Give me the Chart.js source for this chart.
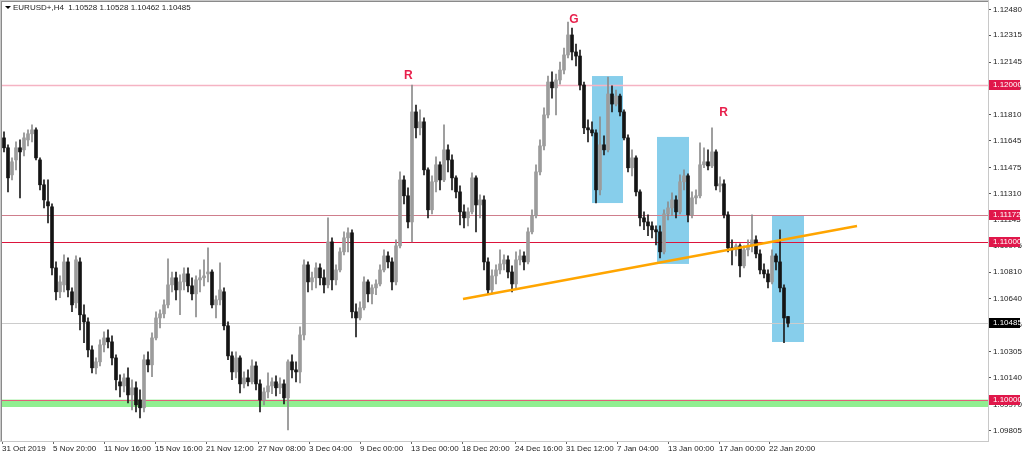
<!DOCTYPE html>
<html>
<head>
<meta charset="utf-8">
<script src="https://cdn.jsdelivr.net/npm/chart.js@4.4.0/dist/chart.umd.min.js"></script>
<style>
  html, body { margin: 0; padding: 0; background: #fff; overflow: hidden; }
</style>
</head>
<body>
<canvas id="chart" width="1024" height="455"></canvas>
<script>
// EURUSD+ H4 candles, one entry per candle
const open = [
  1.11663,1.11600,1.11428,1.11523,1.11600,1.11587,1.11650,1.11689,1.11714,1.11523,
  1.11365,1.11257,1.11225,1.10837,1.10685,1.10729,1.10875,1.10685,1.10615,1.10875,
  1.10539,1.10494,1.10316,1.10202,1.10240,1.10348,1.10392,1.10367,1.10265,1.10113,
  1.10087,1.10138,1.10030,1.10075,1.09998,1.09948,1.10253,1.10221,1.10392,1.10519,
  1.10545,1.10602,1.10729,1.10774,1.10697,1.10748,1.10799,1.10723,1.10672,1.10761,
  1.10774,1.10799,1.10811,1.10602,1.10634,1.10685,1.10469,1.10278,1.10176,1.10265,
  1.10100,1.10138,1.10113,1.10214,1.10100,1.09998,1.10049,1.10087,1.10113,1.10075,
  1.10100,1.10011,1.10240,1.10189,1.10176,1.10411,1.10856,1.10748,1.10774,1.10837,
  1.10774,1.10729,1.11002,1.10761,1.10824,1.10939,1.11028,1.11060,1.10558,1.10519,
  1.10583,1.10748,1.10672,1.10710,1.10735,1.10824,1.10913,1.10875,1.10748,1.10977,
  1.11396,1.11295,1.11129,1.11828,1.11727,1.11765,1.11460,1.11206,1.11384,1.11492,
  1.11396,1.11587,1.11523,1.11409,1.11320,1.11193,1.11155,1.11193,1.11409,1.11237,
  1.11269,1.10875,1.10697,1.10786,1.10824,1.10862,1.10888,1.10811,1.10735,1.10888,
  1.10913,1.10875,1.11066,1.11168,1.11447,1.11612,1.11809,1.12018,1.11981,1.12031,
  1.12094,1.12190,1.12317,1.12209,1.12183,1.11999,1.11727,1.11714,1.11695,1.11333,
  1.11619,1.11587,1.11942,1.11878,1.11929,1.11828,1.11663,1.11473,1.11536,1.11320,
  1.11155,1.11129,1.11104,1.11079,1.11066,1.10939,1.11180,1.11218,1.11269,1.11193,
  1.11384,1.11422,1.11174,1.11282,1.11295,1.11492,1.11511,1.11485,1.11574,1.11358,
  1.11371,1.11174,1.10964,1.10952,1.10977,1.10850,1.10952,1.10977,1.11015,1.10926,
  1.10824,1.10799,1.10748,1.10913,1.10875,1.10710,1.10528
];
const high = [
  1.11701,1.11619,1.11536,1.11638,1.11650,1.11695,1.11714,1.11746,1.11727,1.11536,
  1.11396,1.11396,1.11244,1.10875,1.10786,1.10920,1.10901,1.10710,1.10913,1.10901,
  1.10602,1.10519,1.10341,1.10265,1.10380,1.10430,1.10443,1.10405,1.10284,1.10157,
  1.10164,1.10202,1.10126,1.10113,1.10062,1.10284,1.10303,1.10424,1.10558,1.10570,
  1.10634,1.10894,1.10811,1.10811,1.10793,1.10837,1.10837,1.10774,1.10786,1.10824,
  1.10888,1.10964,1.10824,1.10659,1.10869,1.10710,1.10494,1.10303,1.10303,1.10278,
  1.10176,1.10189,1.10253,1.10240,1.10126,1.10075,1.10170,1.10138,1.10151,1.10138,
  1.10126,1.10253,1.10284,1.10240,1.10462,1.10888,1.10875,1.10811,1.10869,1.10862,
  1.10824,1.11155,1.11028,1.10856,1.10964,1.11066,1.11091,1.11079,1.10608,1.10621,
  1.10780,1.10761,1.10729,1.10761,1.10856,1.10952,1.10939,1.10901,1.11015,1.11447,
  1.11422,1.11345,1.11999,1.11872,1.11841,1.11790,1.11473,1.11422,1.11542,1.11511,
  1.11746,1.11619,1.11555,1.11422,1.11358,1.11237,1.11218,1.11441,1.11422,1.11301,
  1.11295,1.10901,1.10824,1.10856,1.10952,1.10920,1.10913,1.10850,1.10939,1.10952,
  1.10939,1.11091,1.11206,1.11492,1.11650,1.11854,1.12056,1.12082,1.12069,1.12145,
  1.12234,1.12399,1.12361,1.12259,1.12221,1.12018,1.11777,1.11765,1.11714,1.11797,
  1.11676,1.12050,1.11993,1.11967,1.11942,1.11841,1.11682,1.11587,1.11549,1.11333,
  1.11193,1.11174,1.11129,1.11104,1.11104,1.11206,1.11257,1.11314,1.11295,1.11428,
  1.11460,1.11434,1.11320,1.11333,1.11631,1.11600,1.11587,1.11727,1.11587,1.11415,
  1.11396,1.11193,1.11015,1.10990,1.10990,1.10977,1.11015,1.11174,1.11041,1.10952,
  1.10862,1.10824,1.10952,1.10926,1.11079,1.10729,1.10528
];
const low = [
  1.11574,1.11320,1.11396,1.11460,1.11282,1.11549,1.11612,1.11638,1.11523,1.11333,
  1.11218,1.11123,1.10793,1.10634,1.10647,1.10685,1.10653,1.10558,1.10583,1.10443,
  1.10361,1.10272,1.10170,1.10164,1.10214,1.10303,1.10329,1.10221,1.10062,1.10017,
  1.10049,1.09979,1.09935,1.09922,1.09884,1.09922,1.10176,1.10145,1.10380,1.10456,
  1.10519,1.10583,1.10685,1.10634,1.10539,1.10697,1.10685,1.10634,1.10526,1.10685,
  1.10723,1.10748,1.10583,1.10519,1.10602,1.10443,1.10253,1.10126,1.10138,1.10043,
  1.10075,1.10087,1.10100,1.10062,1.09922,1.09967,1.10011,1.10037,1.10024,1.10037,
  1.09973,1.09808,1.10138,1.10113,1.10106,1.10380,1.10685,1.10697,1.10710,1.10729,
  1.10678,1.10710,1.10697,1.10729,1.10811,1.10920,1.10939,1.10519,1.10399,1.10507,
  1.10570,1.10621,1.10608,1.10666,1.10723,1.10811,1.10837,1.10697,1.10729,1.10964,
  1.11244,1.11091,1.11002,1.11663,1.11682,1.11428,1.11155,1.11180,1.11320,1.11333,
  1.11384,1.11447,1.11333,1.11282,1.11110,1.11091,1.11104,1.11180,1.11066,1.11155,
  1.10824,1.10672,1.10672,1.10735,1.10799,1.10824,1.10774,1.10685,1.10710,1.10856,
  1.10824,1.10862,1.11053,1.11155,1.11428,1.11587,1.11790,1.11916,1.11809,1.12005,
  1.12069,1.12171,1.12158,1.12120,1.11967,1.11689,1.11638,1.11676,1.11250,1.11301,
  1.11555,1.11574,1.11828,1.11866,1.11803,1.11650,1.11447,1.11422,1.11295,1.11104,
  1.11079,1.11041,1.11028,1.10983,1.10901,1.10926,1.11142,1.11168,1.11155,1.11180,
  1.11333,1.11129,1.11155,1.11244,1.11282,1.11473,1.11460,1.11473,1.11333,1.11320,
  1.11155,1.10939,1.10856,1.10913,1.10780,1.10837,1.10913,1.10939,1.10901,1.10799,
  1.10774,1.10710,1.10735,1.10824,1.10685,1.10361,1.10462
];
const close = [
  1.11600,1.11409,1.11511,1.11600,1.11574,1.11663,1.11689,1.11714,1.11536,1.11365,
  1.11269,1.11231,1.10837,1.10685,1.10748,1.10875,1.10697,1.10602,1.10888,1.10539,
  1.10494,1.10316,1.10202,1.10240,1.10348,1.10392,1.10367,1.10265,1.10126,1.10087,
  1.10138,1.10030,1.10075,1.09967,1.09948,1.10253,1.10221,1.10392,1.10519,1.10545,
  1.10602,1.10729,1.10774,1.10697,1.10748,1.10799,1.10723,1.10672,1.10761,1.10774,
  1.10786,1.10811,1.10602,1.10634,1.10697,1.10469,1.10278,1.10176,1.10265,1.10100,
  1.10138,1.10113,1.10214,1.10100,1.09998,1.10049,1.10087,1.10113,1.10075,1.10100,
  1.10011,1.10240,1.10189,1.10176,1.10411,1.10856,1.10748,1.10774,1.10837,1.10774,
  1.10729,1.11002,1.10761,1.10824,1.10939,1.11028,1.11060,1.10558,1.10519,1.10583,
  1.10748,1.10672,1.10710,1.10735,1.10824,1.10913,1.10875,1.10748,1.10977,1.11396,
  1.11295,1.11129,1.11828,1.11727,1.11765,1.11460,1.11206,1.11384,1.11492,1.11396,
  1.11587,1.11523,1.11409,1.11320,1.11193,1.11155,1.11193,1.11409,1.11237,1.11269,
  1.10875,1.10697,1.10786,1.10824,1.10862,1.10888,1.10811,1.10735,1.10888,1.10913,
  1.10875,1.11066,1.11168,1.11447,1.11612,1.11809,1.12018,1.11981,1.12031,1.12094,
  1.12190,1.12317,1.12209,1.12183,1.11999,1.11727,1.11714,1.11695,1.11333,1.11619,
  1.11587,1.11942,1.11878,1.11929,1.11828,1.11663,1.11473,1.11536,1.11320,1.11155,
  1.11129,1.11104,1.11079,1.11066,1.10939,1.11180,1.11218,1.11269,1.11193,1.11384,
  1.11422,1.11174,1.11282,1.11295,1.11492,1.11511,1.11485,1.11574,1.11358,1.11371,
  1.11174,1.10964,1.10952,1.10977,1.10850,1.10952,1.10977,1.11015,1.10926,1.10824,
  1.10799,1.10748,1.10913,1.10875,1.10710,1.10519,1.10485
];

// time axis labels, placed at candle positions
const xTickPos = [-0.5, 12.25, 25, 37.75, 50.5, 63.5, 76.25, 89, 101.75, 114.5, 127.75, 140.5, 153.25, 166, 178.75, 191.25];
const xTickLabels = ['31 Oct 2019', '5 Nov 20:00', '11 Nov 16:00', '15 Nov 16:00', '21 Nov 12:00', '27 Nov 08:00',
  '3 Dec 04:00', '9 Dec 00:00', '13 Dec 00:00', '18 Dec 20:00', '24 Dec 16:00', '31 Dec 12:00',
  '7 Jan 04:00', '13 Jan 00:00', '17 Jan 00:00', '22 Jan 20:00'];

// price scale ticks
const yTicks = [1.12480, 1.12315, 1.12145, 1.11980, 1.11810, 1.11645, 1.11475, 1.11310, 1.11145,
  1.10975, 1.10810, 1.10640, 1.10475, 1.10305, 1.10140, 1.09970, 1.09805];

// drawn objects
const levelPrices = [1.12000, 1.11172, 1.11000, 1.10485, 1.10000];
const zoneTop = 1.10000, zoneBottom = 1.09953;
const boxStart = [147, 163.25, 192];
const boxEnd = [154.75, 171.25, 200];
const boxHigh = [1.12056, 1.11669, 1.11173];
const boxLow = [1.11249, 1.10862, 1.10366];
const trendX = [114.75, 213.25];
const trendY = [1.10639, 1.11103];
const marks = ['R', 'G', 'R'];
const markX = [101.1, 142.5, 179.9];
const markY = [1.12056, 1.12412, 1.11821];
const header = 'EURUSD+,H4  1.10528 1.10528 1.10462 1.10485';

const levelColors = ['#f5b3c3', '#cf7e8c', '#dc143c', '#cccccc', '#e0607a'];
const levelTag = ['#e0174a', '#e0174a', '#e0174a', '#000000', '#e0174a'];
const FONT = 'Liberation Sans';

const idx = open.map((_, i) => i);
const isUp = idx.map(i => close[i] >= open[i]);

const mt4 = {
  id: 'mt4',
  beforeDatasetsDraw(chart) {
    const { ctx, chartArea: a, scales: { x, y } } = chart;
    ctx.save();
    ctx.beginPath();
    ctx.rect(a.left, a.top, a.right - a.left, a.bottom - a.top);
    ctx.clip();
    // support zone
    ctx.fillStyle = '#90ee90';
    ctx.fillRect(a.left, y.getPixelForValue(zoneTop), a.right - a.left,
      y.getPixelForValue(zoneBottom) - y.getPixelForValue(zoneTop));
    // blue boxes
    ctx.fillStyle = '#87ceeb';
    boxStart.forEach((s, k) => {
      const x0 = x.getPixelForValue(s), x1 = x.getPixelForValue(boxEnd[k]);
      const y0 = y.getPixelForValue(boxHigh[k]), y1 = y.getPixelForValue(boxLow[k]);
      ctx.fillRect(x0, y0, x1 - x0, y1 - y0);
    });
    // horizontal levels
    levelPrices.forEach((p, k) => {
      const py = Math.round(y.getPixelForValue(p)) + 0.5;
      ctx.strokeStyle = levelColors[k];
      ctx.lineWidth = k === 0 ? 1.5 : 1;
      ctx.beginPath();
      ctx.moveTo(a.left, py);
      ctx.lineTo(a.right, py);
      ctx.stroke();
    });
    ctx.restore();
  },
  afterDatasetsDraw(chart) {
    const { ctx, chartArea: a, scales: { x, y } } = chart;
    ctx.save();
    ctx.beginPath();
    ctx.rect(a.left, a.top, a.right - a.left, a.bottom - a.top);
    ctx.clip();
    // trend line
    ctx.strokeStyle = '#ffa500';
    ctx.lineWidth = 2.6;
    ctx.beginPath();
    ctx.moveTo(x.getPixelForValue(trendX[0]), y.getPixelForValue(trendY[0]));
    ctx.lineTo(x.getPixelForValue(trendX[1]), y.getPixelForValue(trendY[1]));
    ctx.stroke();
    // letters
    ctx.fillStyle = '#e8204c';
    ctx.font = 'bold 12px "' + FONT + '"';
    ctx.textAlign = 'center';
    ctx.textBaseline = 'middle';
    marks.forEach((m, k) => ctx.fillText(m, x.getPixelForValue(markX[k]), y.getPixelForValue(markY[k])));
    ctx.restore();
  },
  afterDraw(chart) {
    const { ctx, chartArea: a, scales: { y } } = chart;
    ctx.save();
    // frame
    ctx.strokeStyle = '#8a8a8a';
    ctx.lineWidth = 1;
    ctx.strokeRect(a.left - 0.5, a.top - 0.5, a.right - a.left + 1, a.bottom - a.top + 1);
    ctx.strokeStyle = '#c8c8c8';
    ctx.strokeRect(0.5, 0.5, a.right, a.bottom);
    // price tags on the scale
    ctx.font = '8px "' + FONT + '"';
    ctx.textAlign = 'left';
    ctx.textBaseline = 'middle';
    levelPrices.forEach((p, k) => {
      const py = Math.round(y.getPixelForValue(p));
      ctx.fillStyle = levelTag[k];
      ctx.fillRect(a.right + 1, py - 5, 31, 10);
      ctx.fillStyle = '#fff';
      ctx.fillText(p.toFixed(5), a.right + 5, py);
    });
    // header
    ctx.fillStyle = '#000';
    ctx.beginPath();
    ctx.moveTo(a.left + 3, a.top + 4);
    ctx.lineTo(a.left + 9, a.top + 4);
    ctx.lineTo(a.left + 6, a.top + 7);
    ctx.closePath();
    ctx.fill();
    ctx.fillStyle = '#222';
    ctx.fillText(header, a.left + 11, a.top + 6);
    ctx.restore();
  }
};

new Chart(document.getElementById('chart'), {
  type: 'bar',
  data: {
    datasets: [
      {
        label: 'wick',
        data: idx.map(i => ({ x: i, y: [low[i], high[i]] })),
        backgroundColor: idx.map(i => isUp[i] ? '#8c8c8c' : '#1c1c1c'),
        barThickness: 1,
        grouped: false,
        order: 2
      },
      {
        label: 'body',
        data: idx.map(i => ({ x: i, y: [open[i], close[i]] })),
        backgroundColor: idx.map(i => isUp[i] ? '#9c9c9c' : '#141414'),
        barThickness: 3,
        minBarLength: 1,
        grouped: false,
        order: 1
      }
    ]
  },
  options: {
    responsive: false,
    animation: false,
    events: [],
    layout: { padding: { left: 2, top: 2, right: 0, bottom: 0 } },
    plugins: { legend: { display: false }, tooltip: { enabled: false } },
    scales: {
      x: {
        type: 'linear',
        min: -0.5,
        max: 246,
        offset: false,
        grid: { drawOnChartArea: false, offset: false, tickLength: 3, color: '#666' },
        border: { color: '#888' },
        afterBuildTicks: s => { s.ticks = xTickPos.map(v => ({ value: v })); },
        afterFit: s => { s.height = 14; s.paddingLeft = 0; s.paddingRight = 0; },
        ticks: {
          autoSkip: false,
          maxRotation: 0,
          align: 'start',
          padding: 0,
          color: '#222',
          font: { family: FONT, size: 8 },
          callback: (v, i) => xTickLabels[i]
        }
      },
      y: {
        position: 'right',
        min: 1.09737,
        max: 1.125264,
        grid: { drawOnChartArea: false, tickLength: 3, color: '#555' },
        border: { color: '#888' },
        afterBuildTicks: s => { s.ticks = yTicks.map(v => ({ value: v })); },
        afterFit: s => { s.width = 36; s.paddingTop = 0; s.paddingBottom = 0; },
        ticks: {
          padding: 2,
          color: '#222',
          font: { family: FONT, size: 8 },
          callback: v => v.toFixed(5)
        }
      }
    }
  },
  plugins: [mt4]
});
</script>
</body>
</html>
